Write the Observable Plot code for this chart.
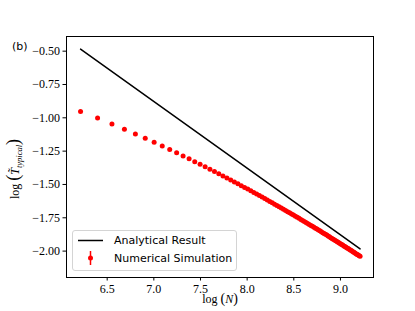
<!DOCTYPE html>
<html><head><meta charset="utf-8">
<script src="https://cdn.jsdelivr.net/npm/d3@7"></script>
<script src="https://cdn.jsdelivr.net/npm/@observablehq/plot@0.6"></script>
<style>body{margin:0;background:#fff}#wrap{position:relative;width:415px;height:311px}</style>
</head><body><div id="wrap"></div>
<script>
// System sizes N (x axis shows log N)
const N = [500,600,700,800,900,1000,1100,1200,1300,1400,1500,1600,1700,1800,1900,2000,
2100,2200,2300,2400,2500,2600,2700,2800,2900,3000,3100,3200,3300,3400,3500,3600,3700,3800,3900,4000,
4100,4200,4300,4400,4500,4600,4700,4800,4900,5000,5100,5200,5300,5400,5500,5600,5700,5800,5900,6000,
6100,6200,6300,6400,6500,6600,6700,6800,6900,7000,7100,7200,7300,7400,7500,7600,7700,7800,7900,8000,
8100,8200,8300,8400,8500,8600,8700,8800,8900,9000,9100,9200,9300,9400,9500,9600,9700,9800,9900,10000];
// Numerical simulation: log(T_typical)
const simY = [-0.952,-1.002,-1.046,-1.086,-1.121,-1.154,-1.184,-1.212,-1.238,-1.263,-1.286,-1.308,-1.329,-1.349,-1.368,-1.386,
-1.403,-1.420,-1.436,-1.452,-1.467,-1.481,-1.495,-1.509,-1.522,-1.535,-1.548,-1.560,-1.572,-1.583,-1.595,-1.606,-1.617,-1.627,-1.637,-1.648,
-1.657,-1.667,-1.677,-1.686,-1.695,-1.704,-1.713,-1.721,-1.730,-1.738,-1.746,-1.754,-1.762,-1.770,-1.778,-1.785,-1.793,-1.800,-1.807,-1.814,
-1.821,-1.828,-1.835,-1.842,-1.848,-1.855,-1.862,-1.868,-1.874,-1.880,-1.887,-1.893,-1.899,-1.905,-1.911,-1.916,-1.922,-1.928,-1.933,-1.939,
-1.944,-1.950,-1.955,-1.961,-1.966,-1.971,-1.976,-1.981,-1.986,-1.991,-1.996,-2.001,-2.006,-2.011,-2.016,-2.021,-2.025,-2.030,-2.035,-2.039];
// Analytical result (straight line, endpoints)
const lineLogN = [6.2146, 9.2103];
const lineY = [-0.485, -1.983];
const xTicks = [6.5, 7.0, 7.5, 8.0, 8.5, 9.0];
const yTicks = [-2.00, -1.75, -1.50, -1.25, -1.00, -0.75, -0.50];
const legendLabels = ["Analytical Result", "Numerical Simulation"];

const sim = N.map((n, i) => ({x: Math.log(n), y: simY[i]}));
const ana = lineLogN.map((x, i) => ({x, y: lineY[i]}));
const fmtY = d => (d < 0 ? "\u2212" : "") + Math.abs(d).toFixed(2);
const SERIF = "'Liberation Serif', serif";

const plot = Plot.plot({
  width: 415, height: 311,
  marginLeft: 66, marginRight: 42, marginTop: 36, marginBottom: 34,
  style: {fontFamily: SERIF, fontSize: "12px", background: "transparent", color: "black"},
  x: {domain: [6.064, 9.354], label: null},
  y: {domain: [-2.198, -0.39], label: null},
  marks: [
    Plot.axisX({ticks: xTicks, tickFormat: d => d.toFixed(1), tickSize: 3.5, tickPadding: 3, label: null,
      stroke: "black", fill: "black"}),
    Plot.axisY({ticks: yTicks, tickFormat: fmtY, tickSize: 3.5, tickPadding: 3, label: null,
      stroke: "black", fill: "black"}),
    Plot.line(ana, {x: "x", y: "y", stroke: "black", strokeWidth: 1.5}),
    Plot.dot(sim, {x: "x", y: "y", r: 2.5, fill: "red", stroke: "none"}),
    Plot.frame({stroke: "black", strokeWidth: 1})
  ]
});
document.getElementById("wrap").appendChild(plot);

const svg = d3.select(plot);
svg.style("font-family", SERIF, "important");
svg.selectAll("g").style("font-family", SERIF, "important").attr("font-family", SERIF);
svg.selectAll("text").style("font-family", SERIF, "important").style("font-size", "12px", "important")
  .attr("font-family", SERIF);
// x label
const xl = svg.append("text").attr("x", 220).attr("y", 303).attr("text-anchor", "middle")
  .attr("font-family", SERIF).attr("font-size", 12).attr("fill", "black");
xl.append("tspan").text("log ");
xl.append("tspan").attr("font-size", 14).text("(");
xl.append("tspan").attr("font-style", "italic").text("N");
xl.append("tspan").attr("font-size", 14).text(")");
// y label
const yl = svg.append("text").attr("transform", "translate(19,169) rotate(-90)").attr("text-anchor", "middle")
  .attr("font-family", SERIF).attr("font-size", 12).attr("fill", "black");
yl.append("tspan").text("log ");
yl.append("tspan").attr("font-size", 18).text("(");
yl.append("tspan").attr("font-style", "italic").text("T\u0303");
yl.append("tspan").attr("font-style", "italic").attr("font-size", 8.5).attr("dy", 3).text("typical");
yl.append("tspan").attr("font-size", 18).attr("dy", -3).text(")");
// panel tag
svg.append("text").attr("x", 12).attr("y", 50).attr("text-anchor", "start")
  .style("font-family", "'DejaVu Sans', sans-serif").attr("font-size", 11).attr("fill", "black").text("(b)");
// legend
const lg = svg.append("g").style("font-family", "'DejaVu Sans', sans-serif").attr("font-size", 11)
  .attr("text-anchor", "start").attr("fill", "black");
lg.append("rect").attr("x", 72.5).attr("y", 230.5).attr("width", 164).attr("height", 40).attr("rx", 2.5)
  .attr("fill", "white").attr("fill-opacity", 0.8).attr("stroke", "#d4d4d4");
lg.append("line").attr("x1", 78).attr("x2", 103).attr("y1", 240.5).attr("y2", 240.5).attr("stroke", "black").attr("stroke-width", 1.5);
lg.append("text").attr("x", 114).attr("y", 240.5).attr("dy", "0.35em").text(legendLabels[0]);
lg.append("line").attr("x1", 90.5).attr("x2", 90.5).attr("y1", 251).attr("y2", 265).attr("stroke", "red").attr("stroke-width", 1.5);
lg.append("circle").attr("cx", 90.5).attr("cy", 258).attr("r", 2.5).attr("fill", "red");
lg.append("text").attr("x", 114).attr("y", 258).attr("dy", "0.35em").text(legendLabels[1]);
</script>
</body></html>
